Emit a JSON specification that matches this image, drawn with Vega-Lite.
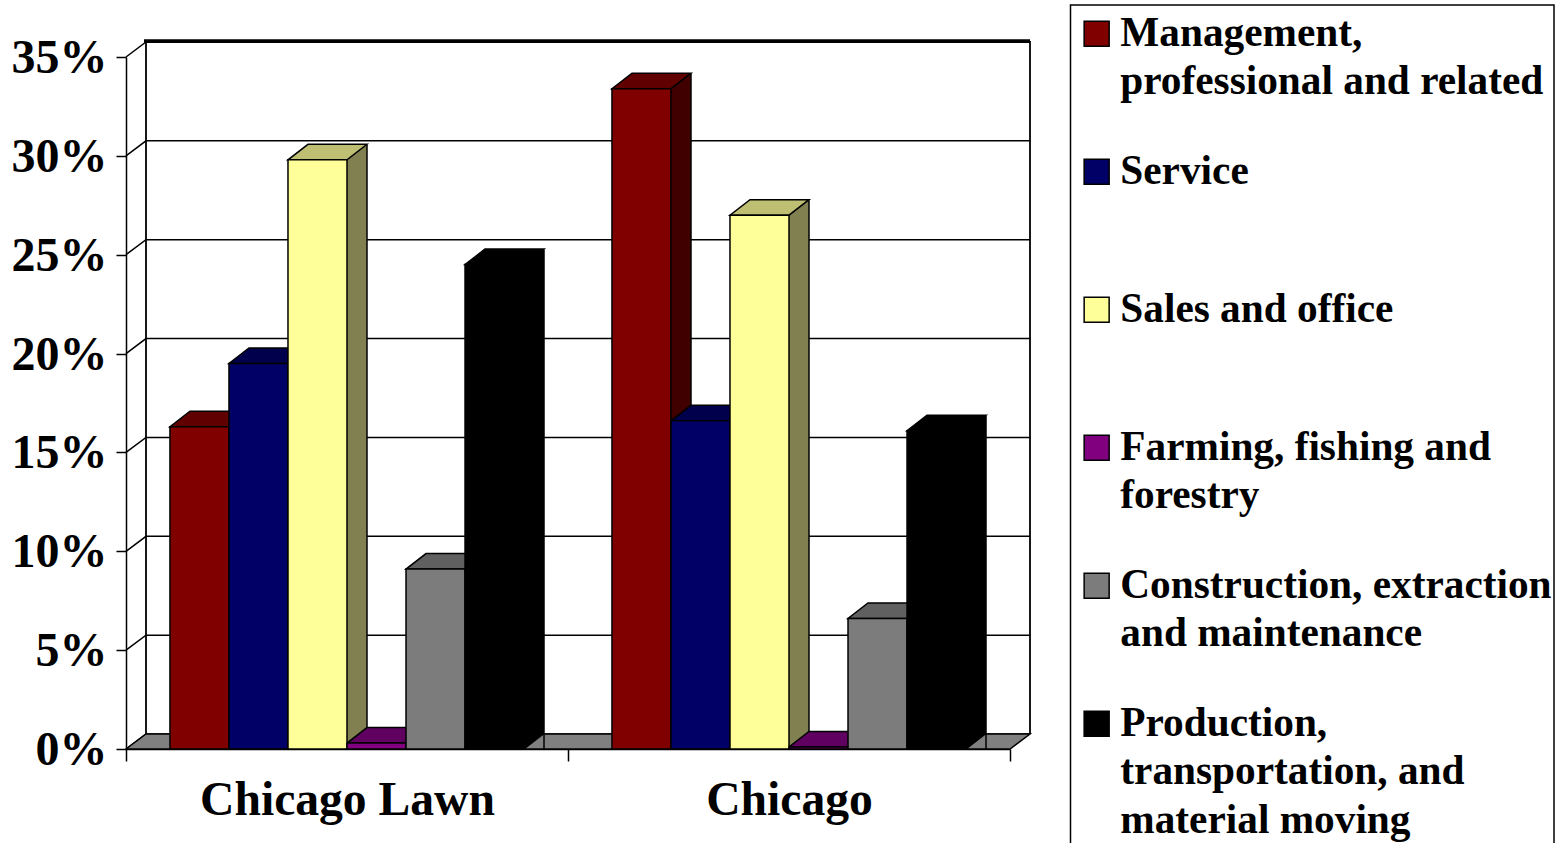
{
"$schema":"https://vega.github.io/schema/vega-lite/v6.json",
"width":884,"height":692,
"autosize":{"type":"none"},
"padding":{"left":126,"top":57,"right":554,"bottom":94},
"background":"white",
"config":{"view":{"stroke":null},"font":"Liberation Serif"},
"datasets":{
"bars":[
{"area":"Chicago Lawn","occupation":"Management, professional and related","share":0.163},
{"area":"Chicago Lawn","occupation":"Service","share":0.195},
{"area":"Chicago Lawn","occupation":"Sales and office","share":0.298},
{"area":"Chicago Lawn","occupation":"Farming, fishing and forestry","share":0.003},
{"area":"Chicago Lawn","occupation":"Construction, extraction and maintenance","share":0.091},
{"area":"Chicago Lawn","occupation":"Production, transportation, and material moving","share":0.245},
{"area":"Chicago","occupation":"Management, professional and related","share":0.334},
{"area":"Chicago","occupation":"Service","share":0.166},
{"area":"Chicago","occupation":"Sales and office","share":0.270},
{"area":"Chicago","occupation":"Farming, fishing and forestry","share":0.001},
{"area":"Chicago","occupation":"Construction, extraction and maintenance","share":0.066},
{"area":"Chicago","occupation":"Production, transportation, and material moving","share":0.161}
],
"ticks":[{"t":0},{"t":0.05},{"t":0.1},{"t":0.15},{"t":0.2},{"t":0.25},{"t":0.3},{"t":0.35}],
"floor":[{"t":0}]
},
"resolve":{"scale":{"color":"independent","xOffset":"independent"}},
"layer":[
{"data":{"name":"floor"},"mark":{"type":"point","shape":"M502.5 -744 L986 -744 L986 160 L502.5 160 Z","size":4,"fill":"white","stroke":"black","strokeWidth":1.5,"opacity":1},"encoding":{"y":{"field":"t","type":"quantitative","scale":{"domain":[0,0.35],"nice":false,"zero":true},"axis":{"values":[0,0.05,0.1,0.15,0.2,0.25,0.3,0.35],"format":".0%","title":null,"grid":false,"domainColor":"black","domainWidth":1.5,"tickColor":"black","tickWidth":1.5,"tickSize":10,"labelFont":"Liberation Serif","labelFontWeight":"bold","labelFontSize":48,"labelColor":"black","labelPadding":9,"labelOffset":1.5}}}},
{"data":{"name":"ticks"},"mark":{"type":"point","shape":"M-442 0 L-422 -15 L462 -15","size":4,"fill":null,"stroke":"black","strokeWidth":1.5,"opacity":1},"encoding":{"y":{"field":"t","type":"quantitative"}}},
{"data":{"name":"floor"},"mark":{"type":"point","shape":"M-442 0 L-422 -15 L462 -15 L442 0 Z","size":4,"fill":"#808080","stroke":"black","strokeWidth":1.5,"opacity":1},"encoding":{"y":{"field":"t","type":"quantitative"}}},
{"data":{"name":"floor"},"mark":{"type":"point","shape":"M-422 -15 L-422 -707 L462 -707 L462 -15","size":4,"fill":null,"stroke":"black","strokeWidth":1.8,"opacity":1},"encoding":{"y":{"field":"t","type":"quantitative"}}},
{"data":{"name":"floor"},"mark":{"type":"point","shape":"M-424 -708 L462 -708","size":4,"fill":null,"stroke":"black","strokeWidth":3.5,"opacity":1},"encoding":{"y":{"field":"t","type":"quantitative"}}},
{"data":{"name":"bars"},"mark":{"type":"bar","size":20,"yOffset":-15},
 "encoding":{
 "x":{"field":"area","type":"nominal","sort":null,"scale":{"domain":["Chicago Lawn","Chicago"],"paddingInner":0,"paddingOuter":0},"axis":{"title":null,"labelAngle":0,"labelLimit":800,"tickBand":"extent","domainColor":"black","domainWidth":1.5,"tickColor":"black","tickWidth":1.5,"tickSize":12,"labelFont":"Liberation Serif","labelFontWeight":"bold","labelFontSize":47.6,"labelColor":"black","labelPadding":15}},
 "xOffset":{"field":"occupation","type":"nominal","sort":null,"scale":{"domain":["Management, professional and related","Service","Sales and office","Farming, fishing and forestry","Construction, extraction and maintenance","Production, transportation, and material moving"],"paddingInner":0,"paddingOuter":0.745,"range":[39.5,481.5]}},
 "y":{"field":"share","type":"quantitative"},
 "color":{"field":"occupation","type":"nominal","legend":null,"scale":{"domain":["Management, professional and related","Service","Sales and office","Farming, fishing and forestry","Construction, extraction and maintenance","Production, transportation, and material moving"],"range":["#400000","#000033","#808050","#400040","#404040","#000000"]}}}},
{"data":{"name":"bars"},"mark":{"type":"point","filled":true,"shape":"M29.5 0 L49.5 -15.5 L29.5 -15.5 Z","size":4,"opacity":1},
 "encoding":{
 "x":{"field":"area","type":"nominal"},
 "xOffset":{"field":"occupation","type":"nominal","sort":null,"scale":{"type":"point","padding":1,"range":[14.5,427.5],"domain":["Management, professional and related","Service","Sales and office","Farming, fishing and forestry","Construction, extraction and maintenance","Production, transportation, and material moving"]}},
 "y":{"datum":0,"type":"quantitative"},
 "color":{"field":"occupation","type":"nominal","legend":null,"scale":{"domain":["Management, professional and related","Service","Sales and office","Farming, fishing and forestry","Construction, extraction and maintenance","Production, transportation, and material moving"],"range":["#400000","#000033","#808050","#400040","#404040","#000000"]}}}},
{"data":{"name":"bars"},"mark":{"type":"rule","yOffset":-15,"color":"black","strokeWidth":1.5},
 "encoding":{
 "x":{"field":"area","type":"nominal"},
 "xOffset":{"field":"occupation","type":"nominal","sort":null,"scale":{"type":"point","padding":1,"domain":["Management, professional and related","Service","Sales and office","Farming, fishing and forestry","Construction, extraction and maintenance","Production, transportation, and material moving"],"range":[64,477]}},
 "y":{"field":"share","type":"quantitative"},
 "y2":{"datum":0}}},
{"data":{"name":"bars"},"mark":{"type":"point","shape":"M29.5 0 L49.5 -15.5","size":4,"fill":null,"stroke":"black","strokeWidth":1.5,"opacity":1},
 "encoding":{
 "x":{"field":"area","type":"nominal"},
 "xOffset":{"field":"occupation","type":"nominal","sort":null,"scale":{"type":"point","padding":1,"range":[14.5,427.5],"domain":["Management, professional and related","Service","Sales and office","Farming, fishing and forestry","Construction, extraction and maintenance","Production, transportation, and material moving"]}},
 "y":{"datum":0,"type":"quantitative"}}},
{"data":{"name":"bars"},"mark":{"type":"point","filled":true,"shape":"M-29.5 0 L29.5 0 L49.5 -15.5 L-9.5 -15.5 Z","size":4,"opacity":1,"stroke":"black","strokeWidth":1.5},
 "encoding":{
 "x":{"field":"area","type":"nominal"},
 "xOffset":{"field":"occupation","type":"nominal","sort":null,"scale":{"type":"point","padding":1,"range":[14.5,427.5],"domain":["Management, professional and related","Service","Sales and office","Farming, fishing and forestry","Construction, extraction and maintenance","Production, transportation, and material moving"]}},
 "y":{"field":"share","type":"quantitative"},
 "color":{"field":"occupation","type":"nominal","legend":null,"scale":{"domain":["Management, professional and related","Service","Sales and office","Farming, fishing and forestry","Construction, extraction and maintenance","Production, transportation, and material moving"],"range":["#600000","#00004c","#bfbf73","#600060","#606060","#000000"]}}}},
{"data":{"name":"bars"},"mark":{"type":"bar","stroke":"black","strokeWidth":1.5},
 "encoding":{
 "x":{"field":"area","type":"nominal"},
 "xOffset":{"field":"occupation","type":"nominal","sort":null,"scale":{"domain":["Management, professional and related","Service","Sales and office","Farming, fishing and forestry","Construction, extraction and maintenance","Production, transportation, and material moving"],"paddingInner":0,"paddingOuter":0.745}},
 "y":{"field":"share","type":"quantitative"},
 "color":{"field":"occupation","type":"nominal","sort":null,"scale":{"domain":["Management, professional and related","Service","Sales and office","Farming, fishing and forestry","Construction, extraction and maintenance","Production, transportation, and material moving"],"range":["#800000","#000066","#ffff99","#800080","#7c7c7c","#000000"]},
 "legend":{"orient":"none","legendX":944,"legendY":-50,"title":null,"columns":1,"gridAlign":"all","padding":6,"rowPadding":-2,"symbolType":"square","symbolSize":625,"symbolStrokeColor":"black","symbolStrokeWidth":1.5,"symbolOpacity":1,"labelOffset":3,"labelLimit":700,"labelFont":"Liberation Serif","labelFontWeight":"bold","labelFontSize":41.3,"labelColor":"black","labelBaseline":"alphabetic",
 "labelExpr":"datum.label=='Management, professional and related'?['Management,','professional and related']:datum.label=='Farming, fishing and forestry'?['Farming, fishing and','forestry']:datum.label=='Construction, extraction and maintenance'?['Construction, extraction','and maintenance']:datum.label=='Production, transportation, and material moving'?['Production,','transportation, and','material moving']:datum.label",
 "encoding":{"labels":{"dy":{"value":12},"lineHeight":{"value":48.5}}}}}}}
]
}
